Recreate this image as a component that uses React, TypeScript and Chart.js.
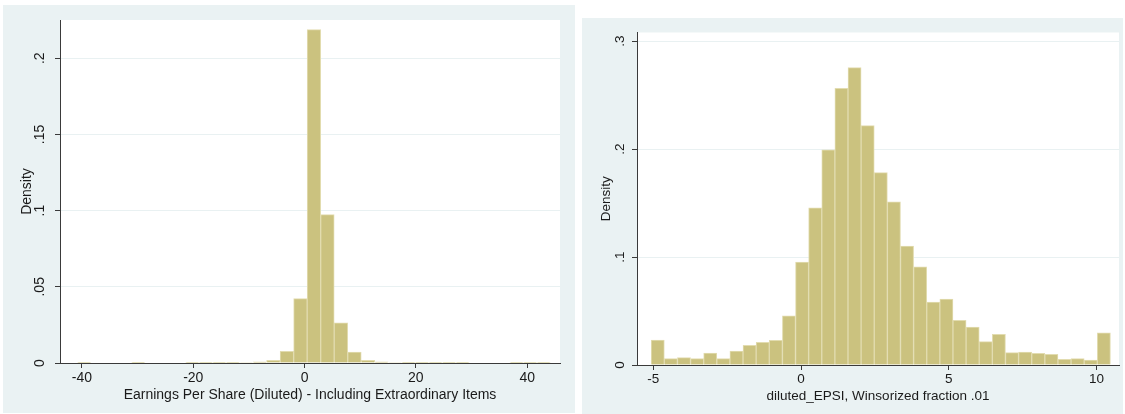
import React, { useEffect, useRef } from "react";
import { Chart, registerables } from "chart.js";

Chart.register(...registerables);

// ---- Earnings per share (diluted), including extraordinary items ----
const epsBinStart = -40.82;
const epsBinWidth = 2.4286;
const epsDensity = [
  0.0005, 0, 0, 0, 0.0005, 0, 0, 0, 0.0004, 0.0004, 0.0004, 0.0004,
  0.0003, 0.0007, 0.0018, 0.0077, 0.0422, 0.2188, 0.0974, 0.0263, 0.0072,
  0.0018, 0.0007, 0.0003, 0.0004, 0.0004, 0.0004, 0.0004, 0.0004, 0, 0, 0,
  0.0004, 0.0004, 0.0004,
];
const epsXTicks = [-40, -20, 0, 20, 40];
const epsYTicks = [0, 0.05, 0.1, 0.15, 0.2];
const epsXTitle = "Earnings Per Share (Diluted) - Including Extraordinary Items";

// ---- diluted_EPSI winsorized at 1% ----
const winBinStart = -5.07;
const winBinWidth = 0.444;
const winDensity = [
  0.0231, 0.0059, 0.0068, 0.0059, 0.0111, 0.0059, 0.013, 0.0182, 0.021,
  0.0228, 0.0456, 0.0953, 0.1455, 0.1992, 0.2562, 0.2754, 0.2217, 0.1782,
  0.1511, 0.1101, 0.091, 0.0583, 0.0611, 0.0413, 0.0352, 0.0216, 0.0284,
  0.0114, 0.012, 0.0108, 0.0099, 0.0052, 0.0059, 0.0046, 0.0299,
];
const winXTicks = [-5, 0, 5, 10];
const winYTicks = [0, 0.1, 0.2, 0.3];
const winXTitle = "diluted_EPSI, Winsorized fraction .01";

const yTitle = "Density";

const REGION_BG = "#eaf2f3";
const PLOT_BG = "#ffffff";
const GRID = "#e9f1f2";
const AXIS = "#3a3a3a";
const TEXT = "#1a1a1a";
const BAR_FILL = "#cbc27f";
const BAR_EDGE = "#e2dcb0";
const FONT = "'Liberation Sans', Arial, Helvetica, sans-serif";

type HistSpec = {
  width: number;
  height: number;
  binStart: number;
  binWidth: number;
  density: number[];
  xTicks: number[];
  yTicks: number[];
  xMin: number;
  xMax: number;
  yMax: number;
  xTitle: string;
  fontSize: number;
  padTop: number;
  padRight: number;
  yAxisWidth: number;
  xAxisHeight: number;
  yTickPad: number;
  xTickPad: number;
  xTitlePad: number;
  yTitlePad: number;
};

const plotBackground = {
  id: "plotBackground",
  beforeDraw(chart: any) {
    const { ctx, chartArea, width, height } = chart;
    ctx.save();
    ctx.fillStyle = REGION_BG;
    ctx.fillRect(0, 0, width, height);
    ctx.fillStyle = PLOT_BG;
    ctx.fillRect(
      chartArea.left,
      chartArea.top,
      chartArea.right - chartArea.left,
      chartArea.bottom - chartArea.top
    );
    ctx.restore();
  },
};

const fmtDensity = (v: number) =>
  v === 0 ? "0" : String(v).replace(/^0(?=\.)/, "");

function buildHistogram(canvas: HTMLCanvasElement, s: HistSpec) {
  const points = s.density.map((y, i) => ({
    x: s.binStart + (i + 0.5) * s.binWidth,
    y,
  }));
  const font = { family: FONT, size: s.fontSize };
  return new Chart(canvas, {
    type: "bar",
    data: {
      datasets: [
        {
          data: points as any,
          backgroundColor: BAR_FILL,
          borderColor: BAR_EDGE,
          borderWidth: 1,
          barPercentage: 1,
          categoryPercentage: 1,
        },
      ],
    },
    options: {
      animation: false,
      responsive: false,
      maintainAspectRatio: false,
      layout: {
        padding: { top: s.padTop, right: s.padRight, left: 0, bottom: 0 },
      },
      plugins: {
        legend: { display: false },
        tooltip: { enabled: false },
      },
      scales: {
        x: {
          type: "linear",
          min: s.xMin,
          max: s.xMax,
          offset: false,
          grid: {
            offset: false,
            drawOnChartArea: false,
            drawTicks: true,
            tickLength: 5,
            tickColor: AXIS,
          },
          border: { display: true, color: AXIS, width: 1 },
          ticks: {
            color: TEXT,
            font,
            padding: s.xTickPad,
            maxRotation: 0,
            autoSkip: false,
            callback: (v: any) => String(v),
          },
          title: {
            display: true,
            text: s.xTitle,
            color: TEXT,
            font,
            padding: { top: 0, bottom: s.xTitlePad },
          },
          afterBuildTicks: (scale: any) => {
            scale.ticks = s.xTicks.map((value) => ({ value }));
          },
          afterFit: (scale: any) => {
            scale.height = s.xAxisHeight;
          },
        },
        y: {
          type: "linear",
          min: 0,
          max: s.yMax,
          grid: {
            color: GRID,
            lineWidth: 1,
            drawTicks: true,
            tickLength: 5,
            tickColor: AXIS,
          },
          border: { display: true, color: AXIS, width: 1 },
          ticks: {
            color: TEXT,
            font,
            minRotation: 90,
            maxRotation: 90,
            crossAlign: "center",
            padding: s.yTickPad,
            autoSkip: false,
            callback: (v: any) => fmtDensity(Number(v)),
          },
          title: {
            display: true,
            text: yTitle,
            color: TEXT,
            font,
            padding: { top: s.yTitlePad, bottom: 0 },
          },
          afterBuildTicks: (scale: any) => {
            scale.ticks = s.yTicks.map((value) => ({ value }));
          },
          afterFit: (scale: any) => {
            scale.width = s.yAxisWidth;
          },
        },
      },
    } as any,
    plugins: [plotBackground],
  });
}

const epsSpec: HistSpec = {
  width: 572,
  height: 408,
  binStart: epsBinStart,
  binWidth: epsBinWidth,
  density: epsDensity,
  xTicks: epsXTicks,
  yTicks: epsYTicks,
  xMin: -43.95,
  xMax: 45.9,
  yMax: 0.2251,
  xTitle: epsXTitle,
  fontSize: 14,
  padTop: 15,
  padRight: 15,
  yAxisWidth: 57,
  xAxisHeight: 50,
  yTickPad: 5.3,
  xTickPad: 2,
  xTitlePad: 9.6,
  yTitlePad: 15.6,
};

const winSpec: HistSpec = {
  width: 541,
  height: 396,
  binStart: winBinStart,
  binWidth: winBinWidth,
  density: winDensity,
  xTicks: winXTicks,
  yTicks: winYTicks,
  xMin: -5.55,
  xMax: 10.76,
  yMax: 0.308,
  xTitle: winXTitle,
  fontSize: 13.5,
  padTop: 14,
  padRight: 4,
  yAxisWidth: 55,
  xAxisHeight: 49,
  yTickPad: 6.4,
  xTickPad: 1.5,
  xTitlePad: 9.9,
  yTitlePad: 15.9,
};

function HistogramPanel({
  spec,
  left,
  top,
}: {
  spec: HistSpec;
  left: number;
  top: number;
}) {
  const ref = useRef<HTMLCanvasElement | null>(null);
  useEffect(() => {
    if (!ref.current) return;
    const chart = buildHistogram(ref.current, spec);
    return () => chart.destroy();
  }, [spec]);
  return (
    <div
      style={{
        position: "absolute",
        left,
        top,
        width: spec.width,
        height: spec.height,
        background: REGION_BG,
      }}
    >
      <canvas
        ref={ref}
        width={spec.width}
        height={spec.height}
        style={{ display: "block", width: spec.width, height: spec.height }}
      />
    </div>
  );
}

export default function App() {
  return (
    <div
      style={{
        position: "absolute",
        left: 0,
        top: 0,
        width: 1125,
        height: 414,
        background: "#ffffff",
        overflow: "hidden",
      }}
    >
      <HistogramPanel spec={epsSpec} left={3} top={5} />
      <HistogramPanel spec={winSpec} left={582} top={18} />
    </div>
  );
}
